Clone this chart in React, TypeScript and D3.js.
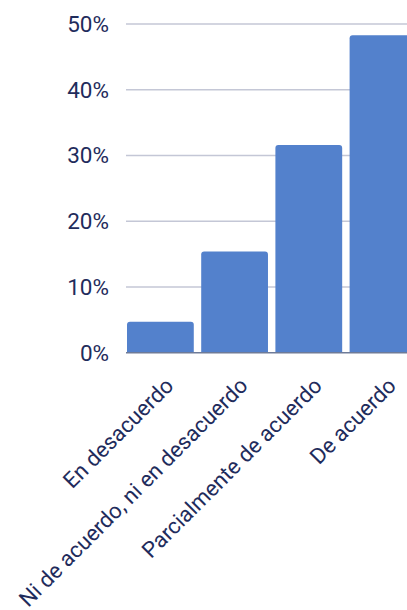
import React from "react";
import * as d3 from "d3";

// Survey answers and their share of respondents (%)
const categories: string[] = [
  "En desacuerdo",
  "Ni de acuerdo, ni en desacuerdo",
  "Parcialmente de acuerdo",
  "De acuerdo",
];
const shares: number[] = [4.7, 15.4, 31.6, 48.3];
const yTicks: number[] = [0, 10, 20, 30, 40, 50];

const WIDTH = 407;
const HEIGHT = 610;
const FONT = "Roboto, 'Noto Sans', sans-serif";
const TEXT_COLOR = "#1f2c5c";
const GRID_COLOR = "#c4c7d6";
const AXIS_COLOR = "#6e7b98";
const BAR_COLOR = "#5381cc";

const plotLeft = 126;
const plotTop = 24;
const plotBottom = 352.7;
const step = 74.2;

function topRoundedBar(x: number, y: number, w: number, h: number, r: number) {
  const rr = Math.min(r, h, w / 2);
  return `M${x},${y + h}V${y + rr}Q${x},${y} ${x + rr},${y}H${x + w - rr}Q${x + w},${y} ${x + w},${y + rr}V${y + h}Z`;
}

export default function App() {
  const x = d3
    .scaleBand<string>()
    .domain(categories)
    .range([plotLeft, plotLeft + step * (categories.length - 0.1 + 2 * 0.0135)])
    .paddingInner(0.1)
    .paddingOuter(0.0135);

  const y = d3.scaleLinear().domain([0, 50]).range([plotBottom, plotTop]);

  return (
    <div style={{ position: "absolute", left: 0, top: 0, width: WIDTH, height: HEIGHT, overflow: "hidden", background: "#fff" }}>
      <svg width={WIDTH} height={HEIGHT} style={{ display: "block" }} fontFamily={FONT}>
        {yTicks.map((t) => (
          <g key={t}>
            {t !== 0 && (
              <line x1={plotLeft} x2={WIDTH + 20} y1={y(t)} y2={y(t)} stroke={GRID_COLOR} strokeWidth={1.6} />
            )}
            <text
              x={109}
              y={y(t)}
              textAnchor="end"
              dominantBaseline="central"
              fontSize={22.5}
              fill={TEXT_COLOR}
            >
              {`${t}%`}
            </text>
          </g>
        ))}

        {categories.map((c, i) => {
          const bx = x(c)!;
          const bw = x.bandwidth();
          const by = y(shares[i]);
          return (
            <path
              key={c}
              d={topRoundedBar(bx, by, bw, plotBottom - by, 3)}
              fill={BAR_COLOR}
            />
          );
        })}

        <line x1={plotLeft} x2={WIDTH + 20} y1={plotBottom} y2={plotBottom} stroke={AXIS_COLOR} strokeWidth={1.6} />

        {categories.map((c) => {
          const cx = x(c)! + x.bandwidth() / 2 + 14.5;
          const cy = 387;
          return (
            <text
              key={c}
              x={cx}
              y={cy}
              textAnchor="end"
              fontSize={22}
              fill={TEXT_COLOR}
              transform={`rotate(-45 ${cx} ${cy})`}
            >
              {c}
            </text>
          );
        })}
      </svg>
    </div>
  );
}
